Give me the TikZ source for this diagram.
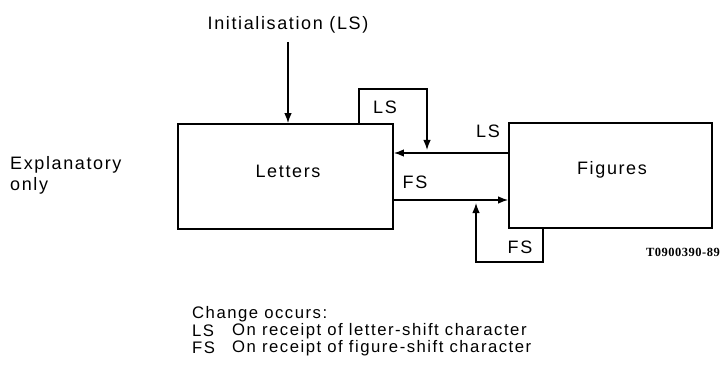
\documentclass[tikz,border=0pt]{standalone}
\usepackage{fontspec}
\setmainfont{Liberation Sans}[LetterSpace=9]
\newfontfamily\tagfont{Liberation Serif}[LetterSpace=4]
\usetikzlibrary{arrows.meta}
\begin{document}
\begin{tikzpicture}[x=1pt,y=-1pt,
  every node/.style={font=\fontsize{18}{21}\selectfont, inner sep=0pt},
  legend/.style={font=\fontsize{16.7}{19}\selectfont, anchor=west},
  box/.style={draw, line width=1.8pt},
  conn/.style={line width=1.3pt, -{Latex[length=10pt,width=7.5pt]}}]
\useasboundingbox (0,0) rectangle (725,374);
\node[box, minimum width=215pt, minimum height=105pt] (L) at (285.5,176.5) {};
\node at (288,171) {Letters};
\node[box, minimum width=203pt, minimum height=105pt] (F) at (610.5,175.5) {};
\node at (612,170) {Figures};
\node (init) at (288,25) {Initialisation (LS)};
\draw[conn] (288,42) -- (L.north -| 288,0);
% LS arrow
\coordinate (lsA) at (F.west |- 0,153);
\draw[conn] (lsA) -- (L.east |- lsA);
% FS arrow
\coordinate (fsA) at (L.east |- 0,200);
\draw[conn] (fsA) -- (F.west |- fsA);
% LS loop
\coordinate (lsLoop) at (L.north -| 359,0);
\draw[conn] (lsLoop) -- (359,89) -- (427,89) -- (427,150);
% FS loop
\coordinate (fsLoop) at (F.south -| 543,0);
\draw[conn] (fsLoop) -- (543,262) -- (476,262) -- (476,203);
\node at (385,107) {LS};
\node at (488,131) {LS};
\node at (415,182) {FS};
\node at (520,247) {FS};
\node[font=\fontsize{12.5}{14}\selectfont\tagfont\bfseries] (tag) at (683,252) {T0900390-89};
\node[anchor=west, align=left] (expl) at (10,175) {Explanatory\\only};
\node[legend] (chg) at (192,314) {Change occurs:};
\node[legend] (k1) at (192,331) {LS};
\node[legend] (t1) at (232,331) {On receipt of letter-shift character};
\node[legend] (k2) at (192,348) {FS};
\node[legend] (t2) at (232,348) {On receipt of figure-shift character};
\end{tikzpicture}
\end{document}
